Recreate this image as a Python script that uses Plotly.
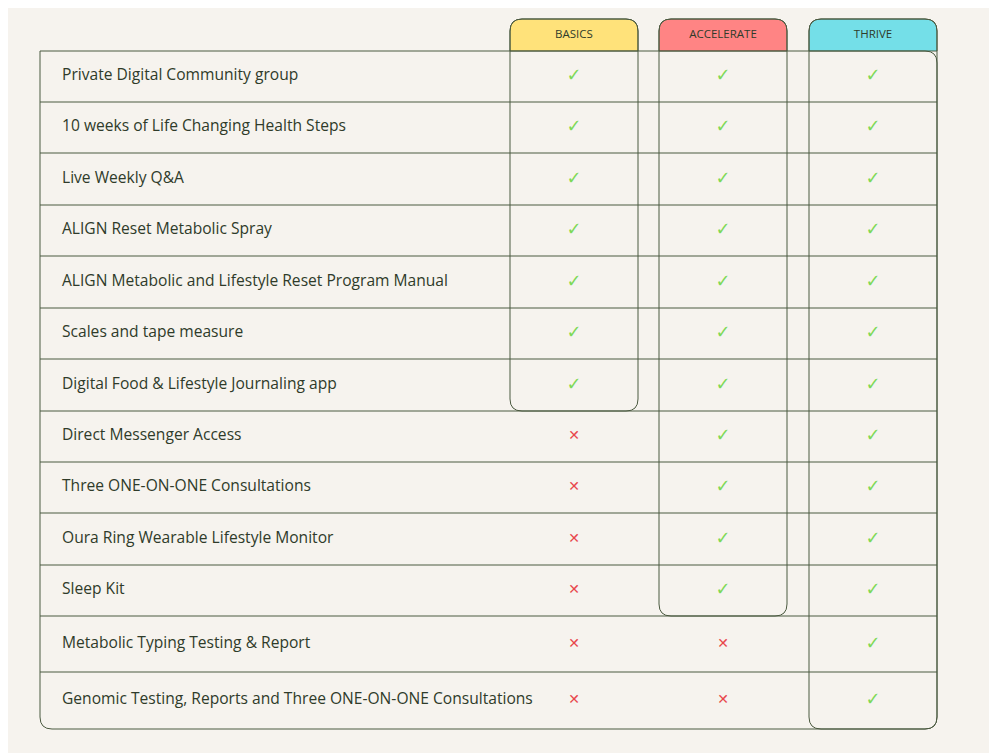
import plotly.graph_objects as go

features = ["Private Digital Community group", "10 weeks of Life Changing Health Steps", "Live Weekly Q&A",
            "ALIGN Reset Metabolic Spray", "ALIGN Metabolic and Lifestyle Reset Program Manual",
            "Scales and tape measure", "Digital Food & Lifestyle Journaling app", "Direct Messenger Access",
            "Three ONE-ON-ONE Consultations", "Oura Ring Wearable Lifestyle Monitor", "Sleep Kit",
            "Metabolic Typing Testing & Report", "Genomic Testing, Reports and Three ONE-ON-ONE Consultations"]
plans = ["BASICS", "ACCELERATE", "THRIVE"]
basics = [1]*7 + [0]*6
accelerate = [1]*11 + [0]*2
thrive = [1]*13
plan_values = [basics, accelerate, thrive]

W, H = 997, 753
OFF = 8
bg = "#F6F3EE"; line = "#4B5A40"; txt = "#2F3B2A"
row_edges = [51, 102, 153, 205, 256, 308, 359, 411, 462, 513, 565, 616, 672, 729]
row_mid = [(row_edges[i] + row_edges[i+1]) / 2 for i in range(13)]
cols = [(510, 638, "#FFE27A"), (659, 787, "#FF8484"), (809, 937, "#74DFE8")]
col_bottom = [411, 616, 729]

def rr(x0, y0, x1, y1, tl, tr, br, bl):
    return (f"M{x0+tl},{y0} L{x1-tr},{y0} Q{x1},{y0} {x1},{y0+tr} L{x1},{y1-br} Q{x1},{y1} {x1-br},{y1} "
            f"L{x0+bl},{y1} Q{x0},{y1} {x0},{y1-bl} L{x0},{y0+tl} Q{x0},{y0} {x0+tl},{y0} Z")

shapes = []
for (x0, x1, c) in cols:
    shapes.append(dict(type="path", path=rr(x0, 19, x1, 51, 12, 12, 0, 0), fillcolor=c,
                       line=dict(color=line, width=1), layer="below"))
shapes.append(dict(type="path", path=rr(40, 51, 937, 729, 0, 12, 12, 12), line=dict(color=line, width=1)))
for y in row_edges[1:-1]:
    shapes.append(dict(type="line", x0=40, x1=937, y0=y, y1=y, line=dict(color=line, width=1)))
for (x0, x1, c), yb in zip(cols, col_bottom):
    shapes.append(dict(type="path", path=rr(x0, 19, x1, yb, 12, 12, 12, 12), line=dict(color=line, width=1)))

fig = go.Figure()
fig.add_trace(go.Scatter(x=[62]*13, y=row_mid, text=features, mode="text", textposition="middle right",
                         textfont=dict(family="Open Sans", size=15.6, color=txt), hoverinfo="skip"))
fig.add_trace(go.Scatter(x=[(c[0]+c[1])/2 for c in cols], y=[35]*3, text=plans, mode="text",
                         textfont=dict(family="Open Sans", size=11.5, color=txt), hoverinfo="skip"))
for (x0, x1, c), vals in zip(cols, plan_values):
    xc = (x0 + x1) / 2
    fig.add_trace(go.Scatter(x=[xc]*13, y=row_mid, mode="text",
                             text=["✓" if v else "✕" for v in vals],
                             textfont=dict(family="DejaVu Sans", size=[18 if v else 14 for v in vals],
                                           color=["#7ED957" if v else "#E8474C" for v in vals]),
                             hoverinfo="skip"))
fig.update_layout(width=W, height=H, margin=dict(l=0, r=0, t=0, b=0), paper_bgcolor=bg, plot_bgcolor=bg,
                  showlegend=False, shapes=shapes,
                  xaxis=dict(range=[OFF, W + OFF], visible=False, fixedrange=True),
                  yaxis=dict(range=[H + OFF, OFF], visible=False, fixedrange=True))
fig.write_html("out.html")
